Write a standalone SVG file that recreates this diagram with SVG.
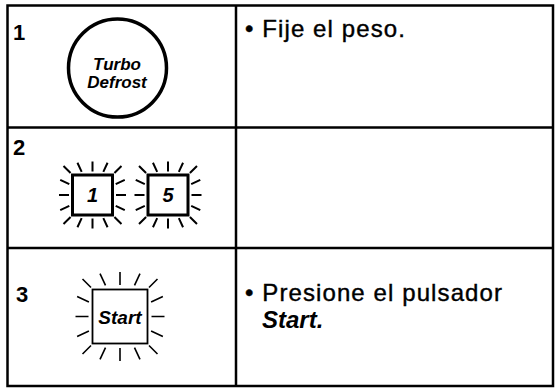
<svg xmlns="http://www.w3.org/2000/svg" width="560" height="390" viewBox="0 0 560 390">
<style>
.grid{stroke:#000;stroke-width:2.5;fill:none}
.num{font-family:"Liberation Sans",Arial,sans-serif;font-weight:bold;font-size:22px;fill:#000}
.txt{font-family:"Liberation Sans",Arial,sans-serif;font-size:24px;letter-spacing:1.1px;fill:#000;stroke:#000;stroke-width:0.4}
.bi{font-family:"Liberation Sans",Arial,sans-serif;font-weight:bold;font-style:italic;fill:#000}
.ray{stroke:#000;fill:none;stroke-linecap:butt}
</style>
<defs>
<path id="rays2" class="ray" stroke-width="2" d="M23.5,0L33.5,0M-23.5,0L-33.5,0M0,23.5L0,33.5M0,-23.5L0,-33.5M23.2,10.82L32.27,15.05M-23.2,10.82L-32.27,15.05M23.2,-10.82L32.27,-15.05M-23.2,-10.82L-32.27,-15.05M10.82,23.2L15.05,32.27M-10.82,23.2L-15.05,32.27M10.82,-23.2L15.05,-32.27M-10.82,-23.2L-15.05,-32.27M21.92,21.92L28.99,28.99M-21.92,21.92L-28.99,28.99M21.92,-21.92L28.99,-28.99M-21.92,-21.92L-28.99,-28.99"/>
<path id="rays3" class="ray" stroke-width="1.6" d="M31.5,0L44.5,0M-31.5,0L-44.5,0M0,31.5L0,44.5M0,-31.5L0,-44.5M31.09,14.5L42.87,19.99M-31.09,14.5L-42.87,19.99M31.09,-14.5L42.87,-19.99M-31.09,-14.5L-42.87,-19.99M14.5,31.09L19.99,42.87M-14.5,31.09L-19.99,42.87M14.5,-31.09L19.99,-42.87M-14.5,-31.09L-19.99,-42.87M28.99,28.99L37.48,37.48M-28.99,28.99L-37.48,37.48M28.99,-28.99L37.48,-37.48M-28.99,-28.99L-37.48,-37.48"/>
</defs>
<g id="table">
<rect class="grid" x="7.5" y="5.5" width="545.5" height="380.5"/>
<line class="grid" x1="236" y1="5.5" x2="236" y2="386"/>
<line class="grid" x1="7.5" y1="127.5" x2="553" y2="127.5"/>
<line class="grid" x1="7.5" y1="248" x2="553" y2="248"/>
</g>
<g id="row1">
<text class="num" x="13" y="40">1</text>
<g id="turbo-defrost">
<circle cx="117.5" cy="68" r="49" fill="none" stroke="#000" stroke-width="3.5"/>
<text class="bi" font-size="17" x="117" y="70" text-anchor="middle">Turbo</text>
<text class="bi" font-size="17" x="117" y="88" text-anchor="middle">Defrost</text>
</g>
<text class="txt" x="245" y="37">• Fije el peso.</text>
</g>
<g id="row2">
<text class="num" x="13" y="155">2</text>
<g id="key1">
<rect x="72.5" y="175" width="40" height="40" fill="none" stroke="#000" stroke-width="3"/>
<text class="bi" font-size="20" x="92.5" y="202" text-anchor="middle">1</text>
<use href="#rays2" x="92.5" y="195"/>
</g>
<g id="key5">
<rect x="148" y="175" width="40" height="40" fill="none" stroke="#000" stroke-width="3"/>
<text class="bi" font-size="20" x="168" y="202" text-anchor="middle">5</text>
<use href="#rays2" x="168" y="195"/>
</g>
</g>
<g id="row3">
<text class="num" x="16" y="302">3</text>
<g id="start-key">
<rect x="92.5" y="289.5" width="55" height="54" fill="none" stroke="#000" stroke-width="1.8"/>
<text class="bi" font-size="19" x="120" y="323.5" text-anchor="middle">Start</text>
<use href="#rays3" x="120" y="316.5"/>
</g>
<text class="txt" x="245" y="301">• Presione el pulsador</text>
<text class="bi" font-size="24" x="262" y="328">Start.</text>
</g>
</svg>
